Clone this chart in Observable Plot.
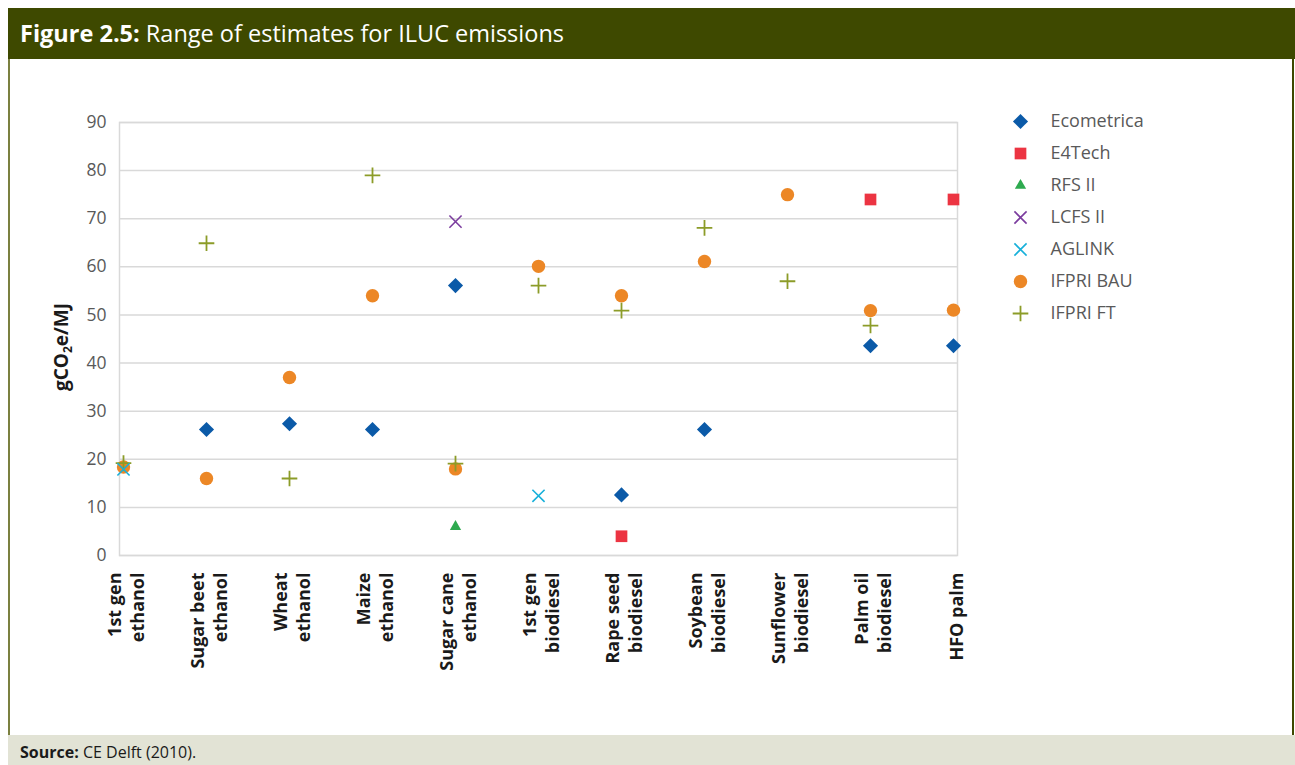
<!DOCTYPE html>
<html><head><meta charset="utf-8">
<script src="https://cdn.jsdelivr.net/npm/d3@7"></script>
<script src="https://cdn.jsdelivr.net/npm/@observablehq/plot@0.6"></script>
<style>
body{margin:0;background:#fff;font-family:"Open Sans",sans-serif;}
#page{position:relative;width:1295px;height:765px;overflow:hidden;background:#fff}
#header{position:absolute;left:8px;top:8px;width:1287px;height:51px;background:#3e4900;z-index:2}
#title{position:absolute;left:12px;top:14px;color:#fff;font-size:23.5px;line-height:22px;white-space:nowrap}
#lborder{position:absolute;left:8px;top:59px;width:2px;height:676px;background:#7b8040;z-index:2}
#rborder{position:absolute;left:1292px;top:59px;width:2px;height:676px;background:#3e4900;z-index:2}
#footer{position:absolute;left:8px;top:735px;width:1287px;height:30px;background:#e2e3d5;z-index:2}
#source{position:absolute;left:12px;top:9.5px;font-size:16px;line-height:14px;color:#1a1a1a;white-space:nowrap}
#chart{position:absolute;left:0;top:100px;z-index:1}
#legend{position:absolute;left:1000px;top:105px;z-index:1}
</style>
</head>
<body>
<div id="page">
  <div id="header"><div id="title"><b>Figure 2.5:</b> Range of estimates for ILUC emissions</div></div>
  <div id="lborder"></div>
  <div id="rborder"></div>
  <div id="footer"><div id="source"><b>Source:</b> CE Delft (2010).</div></div>
  <div id="chart"></div>
  <div id="legend"></div>
</div>
<script>
const categories = ["1st gen ethanol","Sugar beet ethanol","Wheat ethanol","Maize ethanol","Sugar cane ethanol","1st gen biodiesel","Rape seed biodiesel","Soybean biodiesel","Sunflower biodiesel","Palm oil biodiesel","HFO palm"];
const tickLabels = ["1st gen\nethanol","Sugar beet\nethanol","Wheat\nethanol","Maize\nethanol","Sugar cane\nethanol","1st gen\nbiodiesel","Rape seed\nbiodiesel","Soybean\nbiodiesel","Sunflower\nbiodiesel","Palm oil\nbiodiesel","HFO palm"];
const yTicks = [0,10,20,30,40,50,60,70,80,90];
const seriesNames = ["Ecometrica","E4Tech","RFS II","LCFS II","AGLINK","IFPRI BAU","IFPRI FT"];

const ecometrica = [null, 26.2, 27.4, 26.2, 56.1, null, 12.6, 26.2, null, 43.6, 43.6];
const e4tech     = [null, null, null, null, null, null, 4.0, null, null, 74.0, 74.0];
const rfs2       = [null, null, null, null, 6.0, null, null, null, null, null, null];
const lcfs2      = [null, null, null, null, 69.4, null, null, null, null, null, null];
const aglink     = [17.9, null, null, null, null, 12.4, null, null, null, null, null];
const ifpriBau   = [18.4, 16.0, 37.0, 54.0, 18.0, 60.1, 54.0, 61.1, 75.0, 50.9, 51.0];
const ifpriFt    = [19.2, 64.9, 16.0, 79.0, 19.1, 56.1, 50.9, 68.1, 57.0, 47.8, null];

const seriesValues = {"Ecometrica": ecometrica, "E4Tech": e4tech, "RFS II": rfs2, "LCFS II": lcfs2, "AGLINK": aglink, "IFPRI BAU": ifpriBau, "IFPRI FT": ifpriFt};

const styles = {
  "Ecometrica": {symbol: "diamond2", fill: "#0b5aa8", stroke: "none", r: 6.8},
  "E4Tech":     {symbol: "square", fill: "#ec3442", stroke: "none", r: 6.6},
  "RFS II":     {symbol: "triangle", fill: "#2eaa4f", stroke: "none", r: 4.2},
  "LCFS II":    {symbol: "times", fill: "none", stroke: "#7b3c9e", strokeWidth: 1.6, r: 5.6},
  "AGLINK":     {symbol: "times", fill: "none", stroke: "#17b0da", strokeWidth: 1.6, r: 5.6},
  "IFPRI BAU":  {symbol: "circle", fill: "#ec8726", stroke: "none", r: 6.7},
  "IFPRI FT":   {symbol: "plus", fill: "none", stroke: "#8c9c28", strokeWidth: 1.8, r: 5.1}
};
const drawOrder = ["Ecometrica","E4Tech","RFS II","LCFS II","IFPRI BAU","IFPRI FT","AGLINK"];

const rows = [];
for (const s of seriesNames) {
  seriesValues[s].forEach((v, i) => { if (v != null) rows.push({series: s, category: categories[i], value: v}); });
}

const dotMarks = drawOrder.map(s => Plot.dot(rows.filter(d => d.series === s), {
  x: "category", y: "value", ...styles[s]
}));

const chart = Plot.plot({
  width: 980, height: 575,
  marginLeft: 119, marginRight: 23, marginTop: 22, marginBottom: 120,
  style: {fontFamily: "'Open Sans', sans-serif", background: "transparent", overflow: "visible"},
  x: {type: "point", domain: categories, padding: 0},
  y: {domain: [0, 90]},
  marks: [
    Plot.gridY(yTicks, {stroke: "#d9d9d9", strokeOpacity: 1, strokeWidth: 1.5}),
    Plot.frame({stroke: "#d9d9d9", strokeWidth: 1.5}),
    Plot.axisY(yTicks, {tickSize: 0, tickPadding: 13, fontSize: 17.5, fill: "#595959", label: null}),
    Plot.axisX({tickSize: 0, tickRotate: -90, tickPadding: 17, fontSize: 18, fontWeight: "bold", fill: "#1a1a1a",
      lineHeight: 1.28, dx: 2, tickFormat: d => tickLabels[categories.indexOf(d)], label: null}),
    ...dotMarks
  ]
});

const yl = d3.select(chart).append("text")
  .attr("transform", "translate(68,247) rotate(-90)")
  .attr("text-anchor", "middle")
  .attr("font-weight", "bold")
  .attr("font-size", 19)
  .attr("fill", "#1a1a1a");
yl.append("tspan").text("gCO");
yl.append("tspan").attr("font-size", 12).attr("dy", 4).text("2");
yl.append("tspan").attr("dy", -4).text("e/MJ");

document.getElementById("chart").append(chart);

const legend = Plot.plot({
  width: 220, height: 224,
  marginTop: 16, marginBottom: 16, marginLeft: 20, marginRight: 0,
  style: {fontFamily: "'Open Sans', sans-serif", background: "transparent", overflow: "visible"},
  x: {domain: [0, 1], axis: null},
  y: {type: "point", domain: seriesNames, axis: null, padding: 0},
  marks: [
    ...seriesNames.map(s => Plot.dot([s], {x: () => 0, y: d => d, ...styles[s]})),
    Plot.text(seriesNames, {x: () => 0, y: d => d, text: d => d, dx: 30, textAnchor: "start", fontSize: 18, fill: "#595959"})
  ]
});
document.getElementById("legend").append(legend);
</script>
</body></html>
